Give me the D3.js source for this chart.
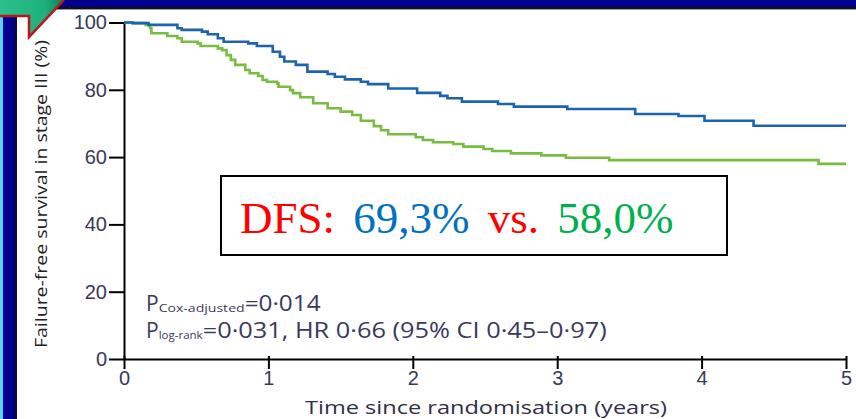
<!DOCTYPE html>
<html>
<meta charset="utf-8">
<style>
body { margin: 0; background: #fff; }
svg { display: block; font-family: "Open Sans", sans-serif; }
.axis path, .axis line { stroke: #000; stroke-width: 2px; fill: none; }
.axis text { fill: #38385a; font-size: 20px; }
</style>
<body>
<script src="https://d3js.org/d3.v7.min.js"></script>
<script>
// chart values
var yTicks = [0, 20, 40, 60, 80, 100];
var xTicks = [0, 1, 2, 3, 4, 5];

// blue arm (years, survival %)
var blueT = [0, 0.06, 0.17, 0.37, 0.40, 0.54, 0.58, 0.65, 0.69, 0.86, 0.92, 1.03, 1.08, 1.11, 1.19, 1.27, 1.41, 1.46, 1.53, 1.64, 1.69, 1.83, 2.03, 2.19, 2.24, 2.34, 2.59, 2.70, 3.07, 3.54, 3.84, 4.02, 4.36, 5.0];
var blueS = [100, 99.8, 99.3, 98.3, 97.8, 97.3, 96.5, 95.3, 94.3, 93.8, 93.0, 91.3, 89.8, 88.4, 87.4, 85.4, 84.7, 83.9, 83.1, 82.4, 81.7, 80.4, 79.1, 78.2, 77.5, 76.5, 75.8, 75.0, 74.3, 72.8, 72.2, 70.8, 69.3, 69.3];

// green arm
var greenT = [0, 0.06, 0.15, 0.18, 0.19, 0.30, 0.37, 0.40, 0.51, 0.53, 0.65, 0.68, 0.71, 0.74, 0.77, 0.84, 0.87, 0.93, 0.96, 0.99, 1.06, 1.07, 1.15, 1.17, 1.22, 1.31, 1.41, 1.50, 1.58, 1.64, 1.73, 1.78, 1.83, 2.02, 2.07, 2.14, 2.28, 2.35, 2.49, 2.55, 2.68, 2.89, 3.06, 3.36, 4.81, 5.0];
var greenS = [100, 99.8, 99.3, 98.3, 96.8, 96.0, 95.3, 94.3, 93.8, 93.0, 92.3, 91.8, 90.3, 88.9, 87.4, 85.9, 84.9, 84.1, 82.9, 82.4, 81.9, 80.9, 79.9, 79.0, 77.8, 76.0, 74.5, 73.5, 72.5, 70.8, 69.2, 68.0, 66.8, 65.9, 65.1, 64.4, 63.9, 63.1, 62.4, 61.8, 61.1, 60.5, 59.8, 59.1, 58.0, 58.0];

var yTitle = "Failure-free survival in stage III (%)";
var xTitle = "Time since randomisation (years)";
var pCox = ["P", "Cox-adjusted", "=0·014"];
var pLog = ["P", "log-rank", "=0·031, HR 0·66 (95% CI 0·45–0·97)"];
var dfsParts = [["DFS:", "#ff0000"], [" 69,3%", "#0070c0"], [" vs.", "#ff0000"], [" 58,0%", "#00b050"]];

var W = 856, H = 419;
var svg = d3.select("body").append("svg").attr("width", W).attr("height", H);

// slide frame
var defs = svg.append("defs");
var grad = defs.append("linearGradient").attr("id", "flag").attr("x1", 0).attr("x2", 1).attr("y1", 0).attr("y2", 0);
grad.append("stop").attr("offset", "0%").attr("stop-color", "#2bc08a");
grad.append("stop").attr("offset", "70%").attr("stop-color", "#1eb07a");
grad.append("stop").attr("offset", "100%").attr("stop-color", "#0b7f55");

svg.append("rect").attr("x", 0).attr("y", 0).attr("width", W).attr("height", 7).attr("fill", "#00008f");
svg.append("rect").attr("x", 0).attr("y", 7).attr("width", W).attr("height", 2).attr("fill", "#111");
svg.append("rect").attr("x", 0).attr("y", 9).attr("width", W).attr("height", 1).attr("fill", "#999");
svg.append("rect").attr("x", 0).attr("y", 0).attr("width", 3).attr("height", H).attr("fill", "#55d4f5");
svg.append("rect").attr("x", 3).attr("y", 0).attr("width", 12).attr("height", H).attr("fill", "#00008f");
svg.append("rect").attr("x", 15).attr("y", 0).attr("width", 2).attr("height", H).attr("fill", "#111");
svg.append("path").attr("d", "M0,0 L64,0 L29,37 L29,16 L0,16 Z").attr("fill", "url(#flag)");
svg.append("path").attr("d", "M0,16 L29,16 L29,37 L64,0").attr("fill", "none").attr("stroke", "#c0141c").attr("stroke-width", 2.5);

// scales
var x = d3.scaleLinear().domain([0, 5]).range([124, 846]);
var y = d3.scaleLinear().domain([0, 100]).range([359, 22.5]);

// axes
var gy = svg.append("g").attr("class", "axis").attr("transform", "translate(124,0)")
    .call(d3.axisLeft(y).tickValues(yTicks).tickSize(15).tickSizeOuter(0).tickPadding(2).tickFormat(d3.format("d")));
var gx = svg.append("g").attr("class", "axis").attr("transform", "translate(0,359)")
    .call(d3.axisBottom(x).tickValues(xTicks).tickSize(10).tickSizeOuter(0).tickPadding(2).tickFormat(d3.format("d")));
gx.selectAll(".tick line").attr("y1", -3);

svg.append("text")
    .attr("transform", "translate(40,194) rotate(-90)")
    .attr("text-anchor", "middle").attr("dominant-baseline", "central")
    .attr("font-size", 17).attr("fill", "#222")
    .attr("textLength", 308).attr("lengthAdjust", "spacingAndGlyphs")
    .text(yTitle);

svg.append("text")
    .attr("x", 486).attr("y", 414).attr("text-anchor", "middle")
    .attr("font-size", 19).attr("fill", "#2e2e48")
    .attr("textLength", 362).attr("lengthAdjust", "spacingAndGlyphs")
    .text(xTitle);

// curves
var line = d3.line()
    .x(function(d) { return x(d[0]); })
    .y(function(d) { return y(d[1]); })
    .curve(d3.curveStepAfter);

svg.append("path").datum(d3.zip(greenT, greenS))
    .attr("d", line).attr("fill", "none").attr("stroke", "#78bd42").attr("stroke-width", 2.6);
svg.append("path").datum(d3.zip(blueT, blueS))
    .attr("d", line).attr("fill", "none").attr("stroke", "#1d64ae").attr("stroke-width", 2.6);

// p-values
function pLine(parts, yy, subLen, mainLen) {
  var t = svg.append("text").attr("x", 146).attr("y", yy).attr("fill", "#3a3a5c");
  t.append("tspan").attr("font-size", 21).text(parts[0]);
  t.append("tspan").attr("font-size", 10).attr("dy", 1)
      .attr("textLength", subLen).attr("lengthAdjust", "spacingAndGlyphs").text(parts[1]);
  t.append("tspan").attr("font-size", 21).attr("dy", -1)
      .attr("textLength", mainLen).attr("lengthAdjust", "spacingAndGlyphs").text(parts[2]);
  return t;
}
pLine(pCox, 311, 86, 76);
pLine(pLog, 338, 44, 404);

// DFS box
svg.append("rect").attr("x", 221).attr("y", 176).attr("width", 506).attr("height", 79)
    .attr("fill", "#fff").attr("stroke", "#000").attr("stroke-width", 2);
var dt = svg.append("text").attr("x", 240).attr("y", 233)
    .attr("font-family", "'Liberation Serif', 'Times New Roman', serif")
    .attr("font-size", 45).attr("word-spacing", 7)
    .style("white-space", "pre");
dt.selectAll("tspan").data(dfsParts).enter().append("tspan")
    .attr("fill", function(d) { return d[1]; })
    .text(function(d) { return d[0]; });
</script>
</body>
</html>
